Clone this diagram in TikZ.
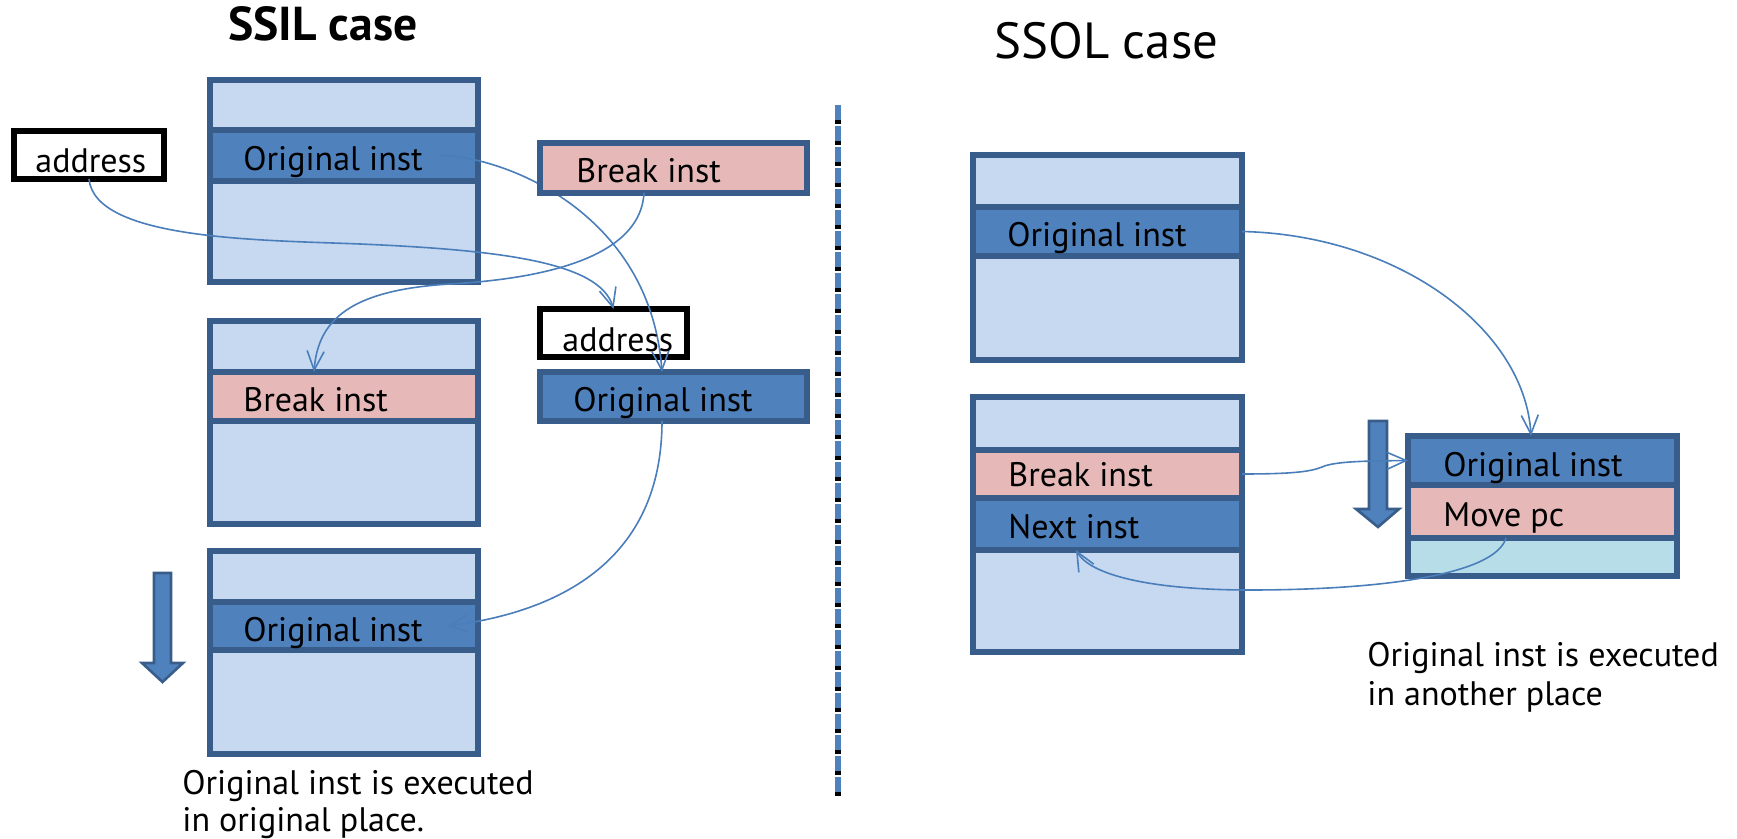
\documentclass[tikz,border=0pt]{standalone}
\usepackage{fontspec}
\setmainfont{PT Sans}
\usetikzlibrary{arrows.meta}

\definecolor{edge}{HTML}{385D8A}
\definecolor{pale}{HTML}{C6D9F1}
\definecolor{mid}{HTML}{4F81BD}
\definecolor{rose}{HTML}{E6B9B8}
\definecolor{aqua}{HTML}{B7DEE8}
\definecolor{wire}{HTML}{4A7EBB}

% a rectangular cell given by the corners of its outline: name, x1, y1, x2, y2, style
\newcommand\cell[6]{%
  \node[#6, minimum width={(#4-#2)*0.5pt}, minimum height={(#5-#3)*0.5pt}]
    (#1) at ({(#2+#4)/2},{(#3+#5)/2}) {};}

\tikzset{
  base/.style={rectangle, draw=edge, line width=2.6pt, inner sep=0pt, outer sep=0pt},
  memory/.style={base, fill=pale},
  instrow/.style={base, fill=mid},
  brkrow/.style={base, fill=rose},
  spare/.style={base, fill=aqua},
  addrbox/.style={rectangle, draw=black, line width=2.6pt, fill=white, inner sep=0pt, outer sep=0pt},
  lbl/.style={anchor=base west, inner sep=0pt, font=\fontsize{17}{20}\selectfont},
  link/.style={draw=wire, line width=0.8pt, -{Straight Barb[length=9.5pt,width=8.5pt]}},
  flow/.style={fill=mid, draw=edge, line width=1.3pt, line join=miter},
}

\begin{document}
\begin{tikzpicture}[x=0.5pt, y=-0.5pt]
\useasboundingbox (0,0) rectangle (1737,839);

% ---------- SSIL: execution in the original place ----------
\cell{A}{210}{80}{478}{282}{memory}
\cell{A1}{210}{130}{478}{181}{instrow}
\cell{B}{210}{321}{478}{524}{memory}
\cell{B1}{210}{372}{478}{421}{brkrow}
\cell{C}{210}{551}{478}{754}{memory}
\cell{C1}{210}{602}{478}{650}{instrow}
\cell{addrL}{14}{131}{164}{179}{addrbox}
\cell{addrR}{540}{309}{687}{357}{addrbox}
\cell{origF}{540}{372}{807}{421}{instrow}

% execution direction
\draw[flow] (154,573) -- (171,573) -- (171,663) -- (183,663) -- (162.5,682)
  -- (142,663) -- (154,663) -- cycle;

% divider between the two cases
\coordinate (divtop) at (838,105);
\coordinate (divbot) at (838,796);
\draw[mid, line width=3pt, dash pattern=on 7.5pt off 3pt] (divtop) -- (divbot);
\draw[black, line width=3pt, dash pattern=on 2pt off 8.5pt, dash phase=3pt] (divtop) -- (divbot);

% ---------- SSOL: execution out of line ----------
\cell{D}{973}{155}{1242}{360}{memory}
\cell{D1}{973}{207}{1242}{256}{instrow}
\cell{E}{973}{397}{1242}{652}{memory}
\cell{E1}{973}{450}{1242}{498}{brkrow}
\cell{E2}{973}{498}{1242}{550}{instrow}
\cell{F}{1408}{436}{1677}{576}{spare}
\cell{F1}{1408}{436}{1677}{485}{instrow}
\cell{F2}{1408}{485}{1677}{538}{brkrow}

\draw[flow] (1369,421) -- (1387,421) -- (1387,509) -- (1399,509) -- (1378,527)
  -- (1356,509) -- (1369,509) -- cycle;

% connectors that pass under the floating break box
\draw[link] (addrL.south) .. controls (95,240) and (260,240) .. (360,244)
  .. controls (500,250) and (600,262) .. (addrR.north);
\draw[link] ([xshift=-19.5pt]A1.east) .. controls (500,155) and (650,210)
  .. ([xshift=-5.75pt]origF.north);

\cell{brkF}{540}{143}{807}{193}{brkrow}

% remaining connectors
\draw[link] ([xshift=-14.75pt]brkF.south) .. controls (640,265) and (520,280) .. (450,284)
  .. controls (350,290) and (318,320) .. ([xshift=-15pt]B1.north);
\draw[link] ([xshift=-5.75pt]origF.south) .. controls (662,560) and (560,612)
  .. ([xshift=-15.5pt]C1.east);
\draw[link] (D1.east) .. controls (1400,235) and (1525,330) .. ([xshift=-5.75pt]F.north);
\draw[link] (E1.east) .. controls (1290,474) and (1310,472) .. (1322,467)
  .. controls (1335,461) and (1370,461) .. (F1.west);
\draw[link] ([xshift=-18.25pt]F2.south) .. controls (1495,575) and (1380,590) .. (1250,590)
  .. controls (1150,590) and (1090,575) .. ([xshift=-15.75pt]E2.south);

% ---------- texts ----------
\node[lbl, font=\bfseries\fontsize{23.8}{28}\selectfont] (ssil) at (228,41) {SSIL case};
\node[lbl, font=\fontsize{25.4}{30}\selectfont] (ssol) at (994,59) {SSOL case};

\node[lbl] (tAddrL) at (35,173) {address};
\node[lbl] (tA1) at (243,171) {Original inst};
\node[lbl] (tBrkF) at (576,183) {Break inst};
\node[lbl] (tAddrR) at (562,352) {address};
\node[lbl] (tB1) at (243,412) {Break inst};
\node[lbl] (tOrigF) at (573,412) {Original inst};
\node[lbl] (tC1) at (243,642) {Original inst};
\node[lbl] (capL1) at (182,795) {Original inst is executed};
\node[lbl] (capL2) at (182,832) {in original place.};

\node[lbl] (tD1) at (1007,247) {Original inst};
\node[lbl] (tE1) at (1008,487) {Break inst};
\node[lbl] (tE2) at (1008,539) {Next inst};
\node[lbl] (tF1) at (1443,477) {Original inst};
\node[lbl] (tF2) at (1443,527) {Move pc};
\node[lbl] (capR1) at (1367,667) {Original inst is executed};
\node[lbl] (capR2) at (1367,705) {in another place};
\end{tikzpicture}
\end{document}
